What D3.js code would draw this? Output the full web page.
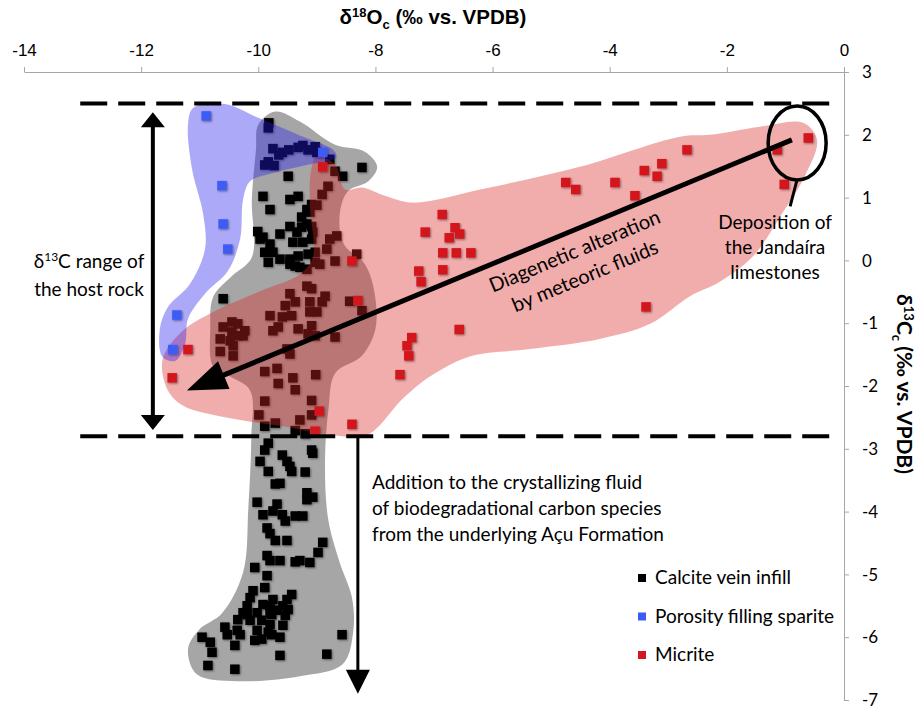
<!DOCTYPE html>
<html>
<head>
<meta charset="utf-8">
<script src="https://cdn.jsdelivr.net/npm/d3@7"></script>
<style>
  body { margin: 0; background: #fff; }
  svg { display: block; }
</style>
</head>
<body>
<div id="chart"></div>
<script>
// axis ticks
const xTicks = [-14, -12, -10, -8, -6, -4, -2, 0];
const yTicks = [3, 2, 1, 0, -1, -2, -3, -4, -5, -6, -7];

// [d18O, d13C]
const calciteVein = [
  [-9.82,2.19],[-9.83,2.11],[-9.75,1.78],[-9.59,1.72],[-9.48,1.76],[-9.32,1.80],[-9.24,1.83],[-9.15,1.76],
  [-9.03,1.81],[-9.00,1.72],[-9.65,1.68],[-9.89,1.52],[-9.73,1.51],[-9.83,1.57],[-8.78,1.61],[-8.23,1.48],
  [-9.49,1.34],[-8.69,1.42],[-8.56,1.34],[-8.81,1.18],[-8.91,1.05],[-9.00,0.88],[-8.66,0.39],[-8.78,0.34],
  [-8.69,-0.01],[-8.83,0.18],[-8.32,0.10],[-9.92,1.02],[-9.80,0.81],[-9.46,0.97],[-9.32,1.02],[-9.17,0.81],
  [-9.26,0.69],[-9.12,0.77],[-9.09,0.89],[-10.01,0.46],[-9.92,0.37],[-9.63,0.42],[-9.46,0.54],[-9.34,0.45],
  [-9.26,0.53],[-9.17,0.58],[-9.07,0.45],[-9.09,0.54],[-9.80,0.26],[-9.41,0.29],[-9.24,0.29],[-9.09,0.34],
  [-9.97,0.34],[-9.89,0.13],[-9.75,0.13],[-9.63,0.02],[-9.46,0.02],[-9.32,0.07],[-9.15,0.10],[-9.03,0.13],
  [-9.83,-0.03],[-9.37,-0.09],[-9.03,-0.03],[-10.60,-0.61],[-9.46,-0.06],[-9.29,-0.11],[-9.17,-0.14],[-8.95,-0.06],
  [-9.46,-0.53],[-9.17,-0.41],[-9.09,-0.45],[-8.86,-0.57],[-9.37,-0.66],[-9.54,-0.72],[-9.12,-0.66],[-8.91,-0.66],
  [-8.44,-0.65],[-8.23,-0.80],[-9.12,-0.82],[-9.00,-0.82],[-9.80,-0.88],[-9.59,-0.90],[-9.43,-0.88],[-9.09,-1.04],
  [-9.32,-1.09],[-9.75,-1.12],[-9.66,-1.06],[-9.15,-1.17],[-9.03,-1.20],[-8.69,-1.22],[-10.60,-1.06],[-10.45,-0.98],
  [-10.35,-1.01],[-10.23,-1.12],[-10.45,-1.14],[-10.35,-1.20],[-10.65,-1.25],[-10.48,-1.28],[-10.26,-1.20],[-10.43,-1.36],
  [-10.65,-1.45],[-10.43,-1.52],[-9.51,-1.41],[-9.46,-1.49],[-9.89,-1.77],[-9.68,-1.72],[-9.41,-1.87],[-9.02,-1.82],
  [-9.66,-1.96],[-9.37,-2.06],[-9.89,-2.24],[-9.09,-2.23],[-9.99,-2.46],[-9.29,-2.54],[-9.09,-2.46],[-9.71,-2.59],
  [-9.89,-2.64],[-9.37,-2.71],[-9.20,-2.76],
  [-9.83,-2.91],[-9.89,-3.02],[-9.59,-3.10],[-9.97,-3.20],[-9.51,-3.20],[-9.46,-3.28],[-9.09,-3.02],[-9.07,-3.07],
  [-9.83,-3.36],[-9.43,-3.36],[-9.20,-3.37],[-9.71,-3.56],[-9.63,-3.55],[-9.17,-3.70],[-9.07,-3.77],[-9.17,-3.81],
  [-10.02,-3.85],[-9.68,-3.88],[-9.92,-4.05],[-9.75,-3.99],[-9.59,-4.05],[-9.54,-4.15],[-9.37,-4.07],[-9.24,-4.07],
  [-9.85,-4.26],[-9.80,-4.35],[-9.71,-4.46],[-9.51,-4.46],[-8.90,-4.49],[-8.98,-4.65],[-9.85,-4.70],[-9.80,-4.78],
  [-9.63,-4.78],[-9.37,-4.80],[-9.29,-4.78],[-9.12,-4.81],[-10.06,-4.89],[-9.85,-5.02],[-9.89,-5.21],[-10.09,-5.26],
  [-10.14,-5.37],[-9.43,-5.32],[-9.75,-5.40],[-9.51,-5.40],[-9.58,-5.50],[-9.80,-5.50],[-9.92,-5.48],[-10.19,-5.50],
  [-10.26,-5.61],[-10.02,-5.61],[-9.80,-5.61],[-9.68,-5.57],[-9.54,-5.65],[-9.49,-5.56],[-10.35,-5.72],[-10.14,-5.73],
  [-9.94,-5.73],[-9.80,-5.80],[-9.58,-5.81],[-10.57,-5.84],[-10.36,-5.89],[-10.53,-5.96],[-10.31,-5.96],[-10.02,-5.89],
  [-9.83,-5.92],[-9.63,-6.00],[-9.77,-5.96],[-9.94,-6.03],[-10.06,-6.05],[-10.96,-6.00],[-10.82,-6.08],[-10.79,-6.24],
  [-10.40,-6.13],[-9.63,-6.29],[-8.57,-5.96],[-8.83,-6.27],[-10.86,-6.45],[-10.40,-6.51],[-9.77,-5.64],[-10.19,-5.64]
];
const sparite = [
  [-10.89,2.30],[-10.62,1.19],[-10.60,0.58],[-10.52,0.18],[-11.39,-0.87],[-11.46,-1.42],[-8.90,1.72]
];
const micrite = [
  [-8.90,1.49],[-8.40,-0.01],[-8.30,-0.64],[-8.96,-2.40],[-9.03,-2.72],[-8.40,-2.61],[-11.20,-1.42],[-11.47,-1.87],
  [-6.86,0.73],[-7.15,0.45],[-6.64,0.52],[-6.74,0.36],[-6.56,0.42],[-6.85,0.12],[-6.62,0.12],[-6.37,0.12],
  [-7.26,-0.17],[-6.85,-0.15],[-7.22,-0.34],[-4.75,1.24],[-4.58,1.13],[-3.91,1.24],[-3.57,1.03],[-3.41,1.43],
  [-3.19,1.34],[-3.11,1.54],[-3.38,-0.74],[-6.57,-1.10],[-7.38,-1.23],[-7.46,-1.36],[-7.43,-1.52],[-7.58,-1.82],
  [-0.61,1.95],[-1.14,1.76],[-2.68,1.76],[-1.02,1.21]
];

// envelopes drawn round each group
const calciteHull = [
  [-10.00,2.16],[-9.71,2.37],[-9.29,2.21],[-8.69,1.84],[-8.18,1.73],[-7.97,1.49],[-8.12,1.26],[-8.47,1.10],
  [-8.61,0.73],[-8.54,0.26],[-8.18,-0.06],[-8.02,-0.49],[-8.00,-1.09],[-8.23,-1.52],[-8.69,-1.80],[-8.80,-2.36],
  [-8.86,-3.15],[-8.81,-4.10],[-8.61,-4.81],[-8.40,-5.37],[-8.38,-5.92],[-8.56,-6.43],[-9.29,-6.62],[-10.36,-6.70],
  [-11.05,-6.59],[-11.20,-6.19],[-11.01,-5.88],[-10.62,-5.62],[-10.26,-4.97],[-10.17,-3.94],[-10.12,-2.83],[-10.14,-2.07],
  [-10.48,-1.85],[-10.77,-1.69],[-10.82,-1.09],[-10.77,-0.58],[-10.45,-0.25],[-10.11,0.05],[-10.11,0.97],[-10.04,1.76]
];
const spariteHull = [
  [-11.11,2.43],[-10.57,2.49],[-10.00,2.27],[-9.29,1.99],[-8.72,1.76],[-8.67,1.64],[-9.12,1.53],[-9.80,1.38],
  [-10.14,1.26],[-10.26,0.97],[-10.31,0.34],[-10.52,-0.17],[-10.91,-0.53],[-11.20,-0.93],[-11.25,-1.33],[-11.42,-1.60],
  [-11.64,-1.53],[-11.68,-1.09],[-11.54,-0.74],[-11.17,-0.38],[-10.91,0.18],[-10.94,0.73],[-11.13,1.45],[-11.20,2.16]
];
const micriteHull = [
  [-9.00,1.65],[-8.69,1.53],[-8.52,1.13],[-8.23,1.16],[-7.84,1.03],[-7.36,0.92],[-6.21,1.13],[-4.51,1.49],
  [-2.80,1.97],[-2.29,2.00],[-1.43,2.13],[-0.70,2.19],[-0.46,1.92],[-0.67,1.34],[-1.09,0.70],[-1.55,0.07],
  [-2.12,-0.34],[-2.63,-0.57],[-3.31,-1.01],[-4.17,-1.25],[-5.36,-1.41],[-6.39,-1.53],[-7.07,-1.85],[-7.53,-2.20],
  [-8.14,-2.78],[-8.73,-2.78],[-9.58,-2.64],[-10.43,-2.52],[-11.29,-2.31],[-11.56,-2.04],[-11.63,-1.56],[-11.29,-1.12],
  [-10.77,-0.82],[-9.97,-0.49],[-9.29,-0.22],[-9.07,0.05],[-9.12,0.89],[-9.10,1.42]
];

const hostRange = [2.5, -2.8];
const legendNames = ["Calcite vein infill", "Porosity filling sparite", "Micrite"];
const legendColors = ["#000000", "#3d5cf5", "#d2161e"];

const SANS = "Lato, 'Open Sans', sans-serif";
const NARROW = "'Liberation Sans Narrow', 'Arial Narrow', 'Liberation Sans', sans-serif";

const width = 919, height = 711;

const svg = d3.select("#chart").append("svg")
    .attr("width", width)
    .attr("height", height)
    .attr("viewBox", `0 0 ${width} ${height}`);

svg.append("rect").attr("width", width).attr("height", height).attr("fill", "#fff");

const x = d3.scaleLinear().domain([-14, 0]).range([24, 844]);
const y = d3.scaleLinear().domain([3, -7]).range([72, 700]);

const defs = svg.append("defs");
const shadow = defs.append("filter").attr("id", "shadow")
    .attr("x", "-50%").attr("y", "-50%").attr("width", "200%").attr("height", "200%");
shadow.append("feDropShadow")
    .attr("dx", 1).attr("dy", 1).attr("stdDeviation", 1)
    .attr("flood-color", "#000").attr("flood-opacity", 0.45);

// axes (plain hyphen minus like the original)
const plain = d => String(d);

const xAxis = svg.append("g")
    .attr("transform", `translate(0,${y(3)})`)
    .call(d3.axisTop(x).tickValues(xTicks).tickFormat(plain).tickSize(5).tickSizeOuter(0));
xAxis.select(".domain").attr("stroke", "#a6a6a6");
xAxis.selectAll(".tick line").attr("stroke", "#a6a6a6");
xAxis.selectAll("text")
    .attr("y", -16)
    .attr("fill", "#000")
    .style("font-family", NARROW)
    .style("font-size", "17px");

const yAxis = svg.append("g")
    .attr("transform", `translate(${x(0)},0)`)
    .call(d3.axisRight(y).tickValues(yTicks).tickFormat(plain).tickSize(5).tickSizeOuter(0));
yAxis.select(".domain").attr("stroke", "#a6a6a6");
yAxis.selectAll(".tick line").attr("stroke", "#a6a6a6");
yAxis.selectAll("text")
    .attr("x", 18)
    .attr("dy", "0.33em")
    .attr("fill", "#000")
    .style("font-family", SANS)
    .style("font-size", "17px");

// axis titles
const xTitle = svg.append("text")
    .attr("x", 433).attr("y", 24)
    .attr("text-anchor", "middle")
    .style("font-family", NARROW)
    .style("font-weight", "bold")
    .style("font-size", "20.5px");
xTitle.append("tspan").text("δ");
xTitle.append("tspan").attr("dy", -7).style("font-size", "13px").text("18");
xTitle.append("tspan").attr("dy", 7).text("O");
xTitle.append("tspan").attr("dy", 5).style("font-size", "13px").text("c");
xTitle.append("tspan").attr("dy", -5).text(" (‰ vs. VPDB)");

const yTitle = svg.append("text")
    .attr("transform", `translate(897,384) rotate(90)`)
    .attr("text-anchor", "middle")
    .style("font-family", SANS)
    .style("font-weight", "bold")
    .style("font-size", "21px");
yTitle.append("tspan").text("δ");
yTitle.append("tspan").attr("dy", -7).style("font-size", "13px").text("13");
yTitle.append("tspan").attr("dy", 7).text("C");
yTitle.append("tspan").attr("dy", 5).style("font-size", "13px").text("c");
yTitle.append("tspan").attr("dy", -5).text(" (‰ vs. VPDB)");

// envelopes and points
const hullLine = d3.line()
    .x(d => x(d[0]))
    .y(d => y(d[1]))
    .curve(d3.curveCatmullRomClosed.alpha(0.5));

svg.append("path").datum(calciteHull)
    .attr("d", hullLine)
    .attr("fill", "#000").attr("fill-opacity", 0.35);

const drawSquares = (data, color, size) => {
    svg.append("g").attr("filter", "url(#shadow)")
        .selectAll("rect")
        .data(data)
        .enter().append("rect")
        .attr("x", d => x(d[0]) - size / 2)
        .attr("y", d => y(d[1]) - size / 2)
        .attr("width", size).attr("height", size)
        .attr("fill", color);
};

drawSquares(calciteVein, legendColors[0], 9.5);

svg.append("path").datum(micriteHull)
    .attr("d", hullLine)
    .attr("fill", "rgb(217,38,38)").attr("fill-opacity", 0.38);

svg.append("path").datum(spariteHull)
    .attr("d", hullLine)
    .attr("fill", "rgb(40,30,240)").attr("fill-opacity", 0.38);

drawSquares(micrite, legendColors[2], 9.5);
drawSquares(sparite, legendColors[1], 9.5);

// host rock range lines
svg.selectAll(".range-line")
    .data(hostRange)
    .enter().append("line")
    .attr("x1", x(-13.04)).attr("x2", x(-0.2))
    .attr("y1", d => y(d)).attr("y2", d => y(d))
    .attr("stroke", "#000")
    .attr("stroke-width", 4)
    .attr("stroke-dasharray", "27,11");

const headPoints = (tip, from, len, hw) => {
    const dx = from[0] - tip[0], dy = from[1] - tip[1];
    const l = Math.hypot(dx, dy);
    const ux = dx / l, uy = dy / l;
    const bx = tip[0] + ux * len, by = tip[1] + uy * len;
    return [tip, [bx - uy * hw, by + ux * hw], [bx + uy * hw, by - ux * hw]];
};

const drawArrow = (p0, p1, opts) => {
    const a = [x(p0[0]), y(p0[1])];
    const b = [x(p1[0]), y(p1[1])];
    const dx = b[0] - a[0], dy = b[1] - a[1];
    const l = Math.hypot(dx, dy);
    const ux = dx / l, uy = dy / l;
    const start = opts.both ? [a[0] + ux * opts.len * 0.8, a[1] + uy * opts.len * 0.8] : a;
    const end = [b[0] - ux * opts.len * 0.8, b[1] - uy * opts.len * 0.8];
    svg.append("line")
        .attr("x1", start[0]).attr("y1", start[1])
        .attr("x2", end[0]).attr("y2", end[1])
        .attr("stroke", "#000").attr("stroke-width", opts.stroke);
    svg.append("polygon")
        .attr("points", headPoints(b, a, opts.len, opts.hw).map(p => p.join(",")).join(" "))
        .attr("fill", "#000");
    if (opts.both) {
        svg.append("polygon")
            .attr("points", headPoints(a, b, opts.len, opts.hw).map(p => p.join(",")).join(" "))
            .attr("fill", "#000");
    }
};

// d13C range of the host rock
drawArrow([-11.80, 2.36], [-11.80, -2.70], {len: 15, hw: 12, stroke: 4, both: true});
// diagenetic alteration trend
drawArrow([-0.89, 1.92], [-11.22, -2.07], {len: 40, hw: 15, stroke: 5});
// biodegradational carbon addition
drawArrow([-8.30, -2.8], [-8.30, -6.90], {len: 24, hw: 12, stroke: 3});

// deposition circle
svg.append("ellipse")
    .attr("cx", x(-0.80)).attr("cy", y(1.87))
    .attr("rx", 29).attr("ry", 37)
    .attr("fill", "none").attr("stroke", "#000").attr("stroke-width", 3.5);
svg.append("line")
    .attr("x1", x(-0.80)).attr("y1", y(1.29))
    .attr("x2", x(-0.92)).attr("y2", y(0.86))
    .attr("stroke", "#000").attr("stroke-width", 3);

// annotations
const addLines = (lines, px, py, step, anchor, size) => {
    const t = svg.append("text")
        .attr("text-anchor", anchor)
        .style("font-family", SANS)
        .style("font-size", size + "px")
        .attr("fill", "#000");
    lines.forEach((s, i) => {
        t.append("tspan").attr("x", px).attr("y", py + i * step).text(s);
    });
    return t;
};

const rangeText = svg.append("text")
    .attr("text-anchor", "middle")
    .style("font-family", SANS).style("font-size", "19px");
const r1 = rangeText.append("tspan").attr("x", 89).attr("y", 268);
r1.append("tspan").text("δ");
r1.append("tspan").attr("dy", -7).style("font-size", "12px").text("13");
r1.append("tspan").attr("dy", 7).text("C range of");
rangeText.append("tspan").attr("x", 89).attr("y", 296).text("the host rock");

addLines(["Deposition of", "the Jandaíra", "limestones"], 775, 229, 25, "middle", 19);

addLines(["Addition to the crystallizing fluid",
          "of biodegradational carbon species",
          "from the underlying Açu Formation"], 372, 489, 26, "start", 19);

const diag = svg.append("text")
    .attr("transform", "translate(575,252) rotate(-22.6)")
    .attr("text-anchor", "middle")
    .style("font-family", SANS).style("font-size", "20px");
diag.append("tspan").attr("x", 0).attr("y", 6).text("Diagenetic alteration");
diag.append("tspan").attr("x", 0).attr("y", 33).text("by meteoric fluids");

// legend
const legend = svg.append("g");
legendNames.forEach((name, i) => {
    const ly = 578 + i * 38.5;
    legend.append("rect")
        .attr("x", 638).attr("y", ly - 4).attr("width", 8).attr("height", 8)
        .attr("fill", legendColors[i]);
    legend.append("text")
        .attr("x", 655).attr("y", ly + 6)
        .style("font-family", SANS).style("font-size", "19px")
        .text(name);
});
</script>
</body>
</html>
